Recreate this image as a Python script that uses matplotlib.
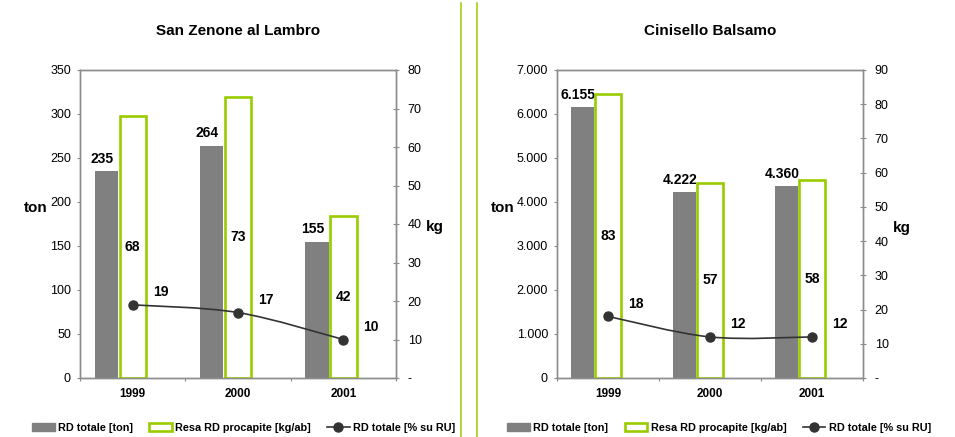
import numpy as np
import matplotlib
matplotlib.use("Agg")
import matplotlib.pyplot as plt
from matplotlib.path import Path
from matplotlib.patches import PathPatch, Patch
from matplotlib.lines import Line2D
from matplotlib.ticker import FuncFormatter, MultipleLocator

plt.rcParams['font.family'] = ['Liberation Sans', 'DejaVu Sans']

years = ['1999', '2000', '2001']

# San Zenone al Lambro
sz_ton = [235, 264, 155]
sz_kg = [68, 73, 42]
sz_pct = [19, 17, 10]

# Cinisello Balsamo
cb_ton = [6155, 4222, 4360]
cb_kg = [83, 57, 58]
cb_pct = [18, 12, 12]

GREY = '#808080'
GREEN = '#99cc00'
LINE = '#333333'
SPINE = '#8c8c8c'


def thousands(v, pos=None):
    return f"{v:,.0f}".replace(",", ".")


def dash_zero(v, pos=None):
    return '-' if abs(v) < 1e-9 else f"{v:.0f}"


def smooth_path(xs, ys):
    # Catmull-Rom curve as cubic Bezier segments
    pts = np.column_stack([xs, ys]).astype(float)
    ext = np.vstack([pts[0], pts, pts[-1]])
    verts = [pts[0]]
    codes = [Path.MOVETO]
    for i in range(1, len(ext) - 2):
        p0, p1, p2, p3 = ext[i - 1], ext[i], ext[i + 1], ext[i + 2]
        verts += [p1 + (p2 - p0) / 6, p2 - (p3 - p1) / 6, p2]
        codes += [Path.CURVE4] * 3
    return Path(verts, codes)


def panel(rect, title, ton, kg, pct, ymax, ystep, y2max, fmt_left):
    ax = fig.add_axes(rect)
    ax2 = ax.twinx()
    x = np.arange(len(years))

    ax.bar(x - 0.25, ton, width=0.22, color=GREY, zorder=2)
    ax2.bar(x, kg, width=0.25, facecolor='white', edgecolor=GREEN,
            linewidth=1.9, zorder=2)
    ax2.add_patch(PathPatch(smooth_path(x, pct), facecolor='none',
                            edgecolor=LINE, linewidth=1.2, zorder=3))
    ax2.plot(x, pct, 'o', color=LINE, markersize=6.5, zorder=4)

    for xi, v in zip(x, ton):
        ax.annotate(thousands(v), (xi - 0.25, v), xytext=(-3, 4),
                    textcoords='offset points', ha='center', va='bottom',
                    fontsize=10, fontweight='bold')
    for xi, v in zip(x, kg):
        ax2.text(xi, v / 2, f"{v}", ha='center', va='center',
                 fontsize=10, fontweight='bold')
    for xi, v in zip(x, pct):
        ax2.annotate(f"{v}", (xi, v), xytext=(20, 9),
                     textcoords='offset points', ha='center', va='center',
                     fontsize=10, fontweight='bold')

    ax.set_xlim(-0.5, 2.5)
    ax.set_ylim(0, ymax)
    ax2.set_ylim(0, y2max)
    ax.yaxis.set_major_locator(MultipleLocator(ystep))
    ax2.yaxis.set_major_locator(MultipleLocator(10))
    ax.yaxis.set_major_formatter(FuncFormatter(fmt_left))
    ax2.yaxis.set_major_formatter(FuncFormatter(dash_zero))

    ax.set_xticks([-0.5, 0.5, 1.5, 2.5])
    ax.set_xticklabels([])
    ax.set_xticks(x, minor=True)
    ax.set_xticklabels(years, minor=True, fontsize=8.5, fontweight='bold')
    ax.tick_params(axis='x', which='major', length=2.5, color=SPINE, direction='out')
    ax.tick_params(axis='x', which='minor', length=0, pad=7)
    ax.tick_params(axis='y', length=2.5, color=SPINE, labelsize=9, pad=4)
    ax2.tick_params(axis='y', direction='inout', length=5, color=SPINE,
                    labelsize=9, pad=6)

    for a in (ax, ax2):
        for s in a.spines.values():
            s.set_color(SPINE)
            s.set_linewidth(1.0)

    ax.set_title(title, fontsize=11, fontweight='bold', pad=25)
    return ax


fig = plt.figure(figsize=(9.55, 4.37), dpi=100)

panel([80 / 955, 59 / 437, 316 / 955, 308 / 437], 'San Zenone al Lambro',
      sz_ton, sz_kg, sz_pct, 350, 50, 80, lambda v, p: f"{v:.0f}")
panel([557 / 955, 59 / 437, 306 / 955, 308 / 437], 'Cinisello Balsamo',
      cb_ton, cb_kg, cb_pct, 7000, 1000, 90, thousands)

fig.text(36 / 955, 1 - 208 / 437, 'ton', ha='center', va='center',
         fontsize=11, fontweight='bold')
fig.text(435 / 955, 1 - 227 / 437, 'kg', ha='center', va='center',
         fontsize=11, fontweight='bold')
fig.text(503 / 955, 1 - 208 / 437, 'ton', ha='center', va='center',
         fontsize=11, fontweight='bold')
fig.text(902 / 955, 1 - 228 / 437, 'kg', ha='center', va='center',
         fontsize=11, fontweight='bold')

# separators between the two panels
for xs in (460.5, 476.5):
    fig.add_artist(Line2D([xs / 955, xs / 955], [0, 1 - 3 / 437],
                          color=GREEN, linewidth=1.1))

handles = [Patch(facecolor=GREY, edgecolor=GREY),
           Patch(facecolor='white', edgecolor=GREEN, linewidth=1.9),
           Line2D([], [], color=LINE, marker='o', markersize=6.5, linewidth=1.2)]
labels = ['RD totale [ton]', 'Resa RD procapite [kg/ab]', 'RD totale [% su RU]']
for cx in (243.5 / 955, 719 / 955):
    fig.legend(handles, labels, loc='center', bbox_to_anchor=(cx, 1 - 428 / 437),
               ncol=3, frameon=False, handlelength=2.1, handleheight=0.7,
               handletextpad=0.3, columnspacing=1.5,
               prop={'size': 7.8, 'weight': 'bold'})

fig.savefig('out.png', dpi=100)
